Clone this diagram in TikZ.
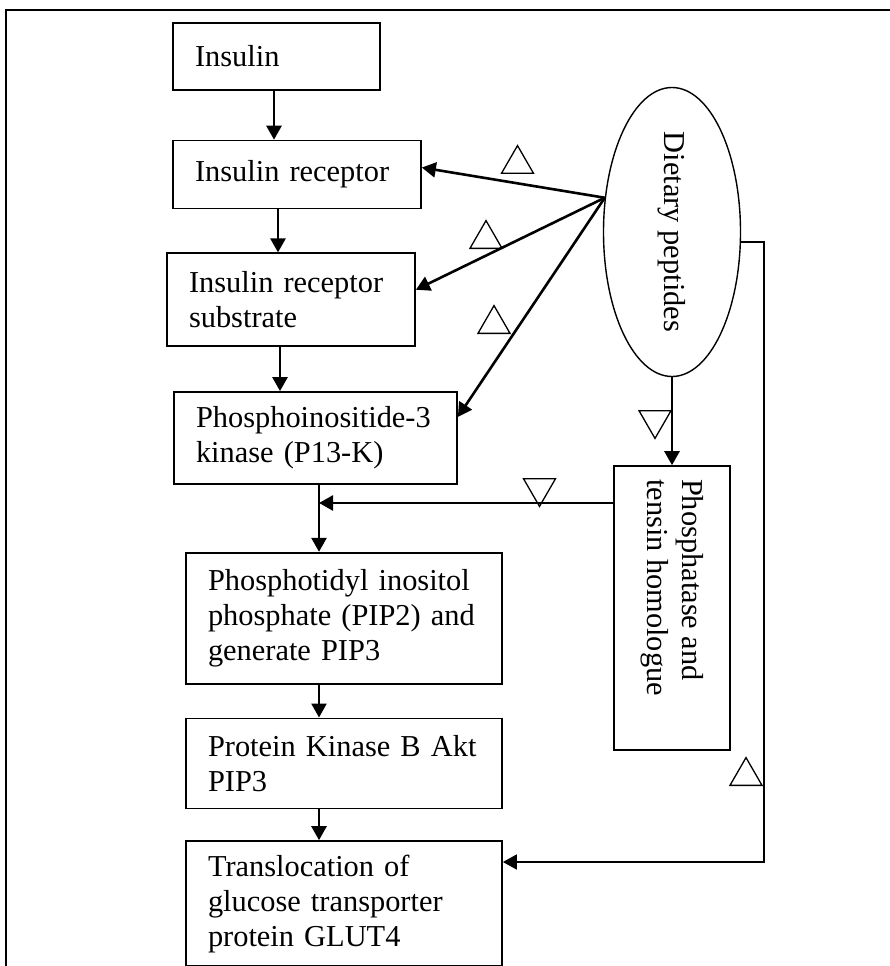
\documentclass[tikz,border=0pt]{standalone}
\usepackage{fontspec}
\setmainfont{Liberation Serif}
\usepackage{graphicx}
\usetikzlibrary{arrows.meta,positioning,shapes.geometric}

\begin{document}
\begin{tikzpicture}[x=1pt,y=-1pt,
  stepbox/.style={draw, line width=1.7pt, align=left, inner xsep=22pt, inner ysep=0pt,
                  font=\fontsize{30.4}{35}\selectfont},
  oval/.style={ellipse, draw, line width=1.4pt, minimum width=137pt, minimum height=289pt,
               inner sep=0pt, font=\fontsize{30.4}{35}\selectfont},
  sidebox/.style={draw, line width=1.7pt, minimum width=116pt, minimum height=284pt,
                  inner sep=0pt, font=\fontsize{30.4}{35}\selectfont},
  arr/.style={-{Triangle[length=14pt,width=15pt]}, line width=2.6pt},
  thinarr/.style={-{Triangle[length=14pt,width=15pt]}, line width=1.6pt},
  upsign/.style={regular polygon, regular polygon sides=3, draw, line width=1.3pt,
                 minimum size=37pt, inner sep=0pt, anchor=south},
  downsign/.style={upsign, shape border rotate=180, anchor=north}
]
  \useasboundingbox (0,0) rectangle (890,966);
  \draw[line width=2pt] (890,10) -- (6,10) -- (6,966);

  % signalling chain
  \node[stepbox, text width=163pt, minimum height=67pt, anchor=north] (ins) at (276.5,22) {Insulin};
  \node[stepbox, text width=204pt, minimum height=68pt, below=49pt of ins, xshift=20.5pt] (rec) {Insulin receptor};
  \node[stepbox, text width=204pt, minimum height=93pt, below=43pt of rec, xshift=-6pt] (irs) {Insulin receptor\\substrate};
  \node[stepbox, text width=239pt, minimum height=92pt, below=44pt of irs, xshift=24.5pt] (pik) {Phosphoinositide-3\\kinase (P13-K)};
  \node[stepbox, text width=272pt, minimum height=131pt, below=67pt of pik, xshift=28.5pt] (pip) {Phosphotidyl inositol\\phosphate (PIP2) and\\generate PIP3};
  \node[stepbox, text width=272pt, minimum height=90pt, below=33pt of pip] (pkb) {Protein Kinase B Akt\\PIP3};
  \node[stepbox, text width=272pt, minimum height=125pt, below=31pt of pkb] (glut) {Translocation of\\glucose transporter\\protein GLUT4};

  % peptides and PTEN
  \node[oval] (diet) at (672,232) {\rotatebox{-90}{Dietary peptides}};
  \node[sidebox, below=88pt of diet] (pten) {\rotatebox{-90}{\parbox{258pt}{\raggedright Phosphatase and\\tensin homologue}}};

  % effect signs
  \node[upsign] (t1) at (517.5,174) {};
  \node[upsign] (t2) at (486,249) {};
  \node[upsign] (t3) at (494,334) {};
  \node[downsign] (t4) at (655,410) {};
  \node[downsign] (t5) at (539.5,478) {};
  \node[upsign] (t6) at (746,786) {};

  \coordinate (src) at (diet.153);
  \coordinate (join) at (319,503);
  \coordinate (loop) at (764,862);

  \draw[arr] ([xshift=-2.5pt]ins.south) -- ([xshift=-2.5pt]ins.south |- rec.north);
  \draw[arr] ([xshift=-19pt]rec.south) -- ([xshift=-19pt]rec.south |- irs.north);
  \draw[arr] ([xshift=-11pt]irs.south) -- ([xshift=-11pt]irs.south |- pik.north);
  \draw[arr] ([xshift=3.5pt]pik.south) -- ([xshift=3.5pt]pik.south |- pip.north);
  \draw[arr] ([xshift=-25pt]pip.south) -- ([xshift=-25pt]pip.south |- pkb.north);
  \draw[arr] ([xshift=-25pt]pkb.south) -- ([xshift=-25pt]pkb.south |- glut.north);

  \draw[arr] (src) -- ([yshift=7pt]rec.east);
  \draw[arr] (src) -- ([yshift=10pt]irs.east);
  \draw[arr] (src) -- ([yshift=21pt]pik.east);
  \draw[arr] (diet.south) -- (pten.north);
  \draw[arr] (pten.west |- join) -- (join);
  \draw[thinarr] (diet.-8) -| (loop) -- (glut.east |- loop);
\end{tikzpicture}
\end{document}
